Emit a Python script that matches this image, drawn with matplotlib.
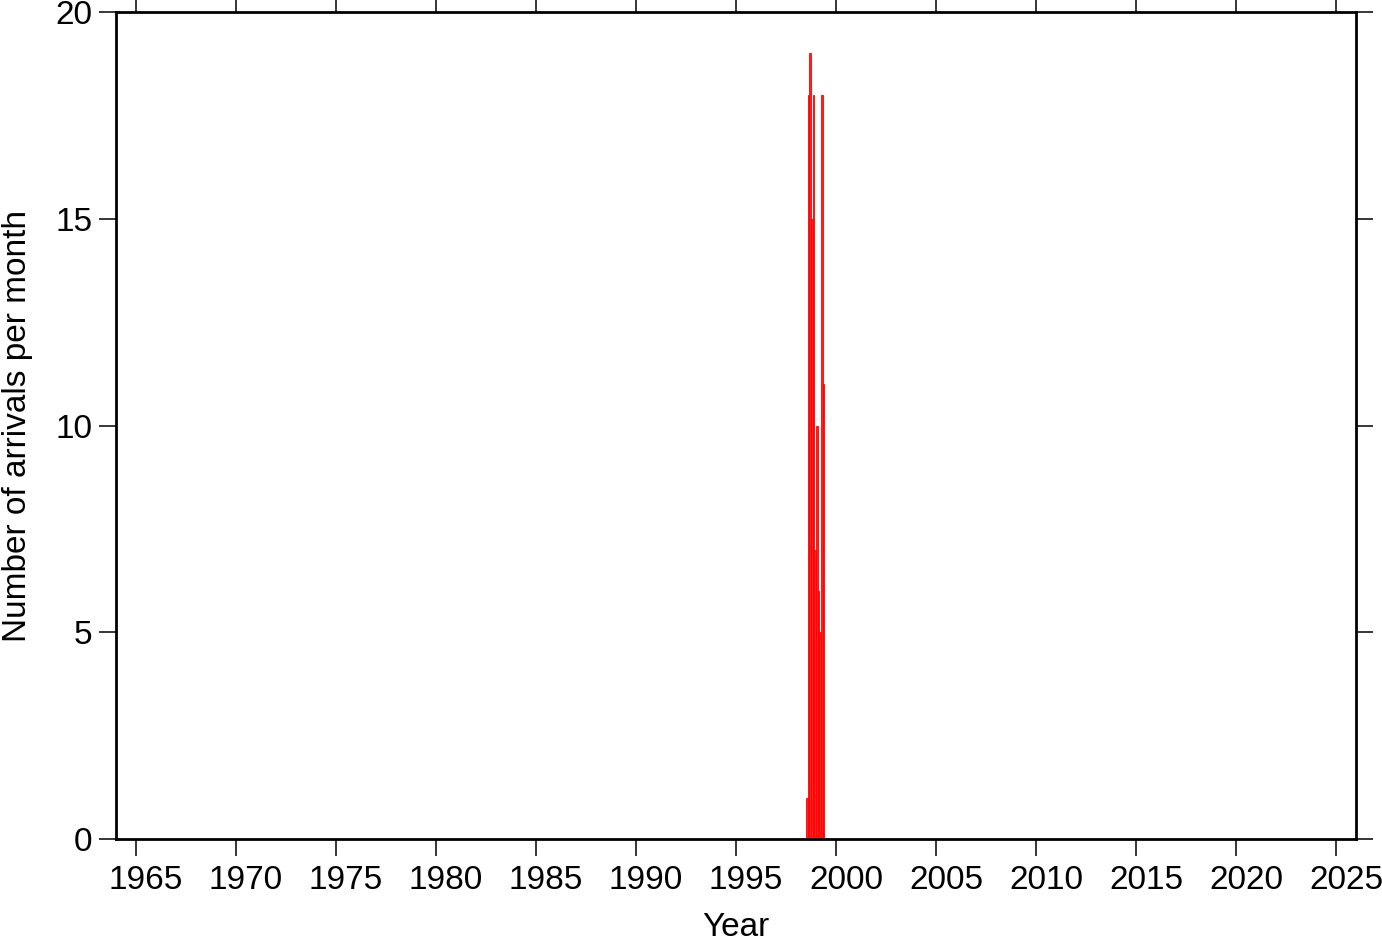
import matplotlib.pyplot as plt
import matplotlib.transforms as mtransforms
import numpy as np

# monthly bins starting July 1998
inicio_mes = [1998 + 6/12 + i/12 for i in range(11)]
conteos = [1, 18, 19, 15, 18, 7, 10, 6, 5, 18, 11]

plt.rcParams['font.family'] = ['Liberation Sans', 'DejaVu Sans']

fig = plt.figure(figsize=(13.82, 9.42), dpi=100)
ax = fig.add_axes([116/1382, 1 - 839/942, (1356-116)/1382, (839-12)/942])

ax.bar(inicio_mes, conteos, width=1/12, align='edge', color='#ff2020',
       edgecolor='#ff0000', linewidth=0.6)

ax.set_xlim(1964, 2026)
ax.set_ylim(0, 20)
ax.set_xticks(np.arange(1965, 2026, 5))
ax.set_yticks([0, 5, 10, 15, 20])
ax.tick_params(direction='out', length=12, width=1.1, labelsize=24,
               top=True, right=True, pad=5)
ax.tick_params(axis='x', pad=7)
for s in ax.spines.values():
    s.set_linewidth(2)

# year labels sit a little right of their ticks in the original
desplaz = mtransforms.ScaledTranslation(10/100, 0, fig.dpi_scale_trans)
for etiqueta in ax.get_xticklabels():
    etiqueta.set_transform(etiqueta.get_transform() + desplaz)

ax.set_xlabel('Year', fontsize=24, labelpad=11)
ax.set_ylabel('Number of arrivals per month', fontsize=24, labelpad=16)

fig.savefig('out.png', dpi=100)
